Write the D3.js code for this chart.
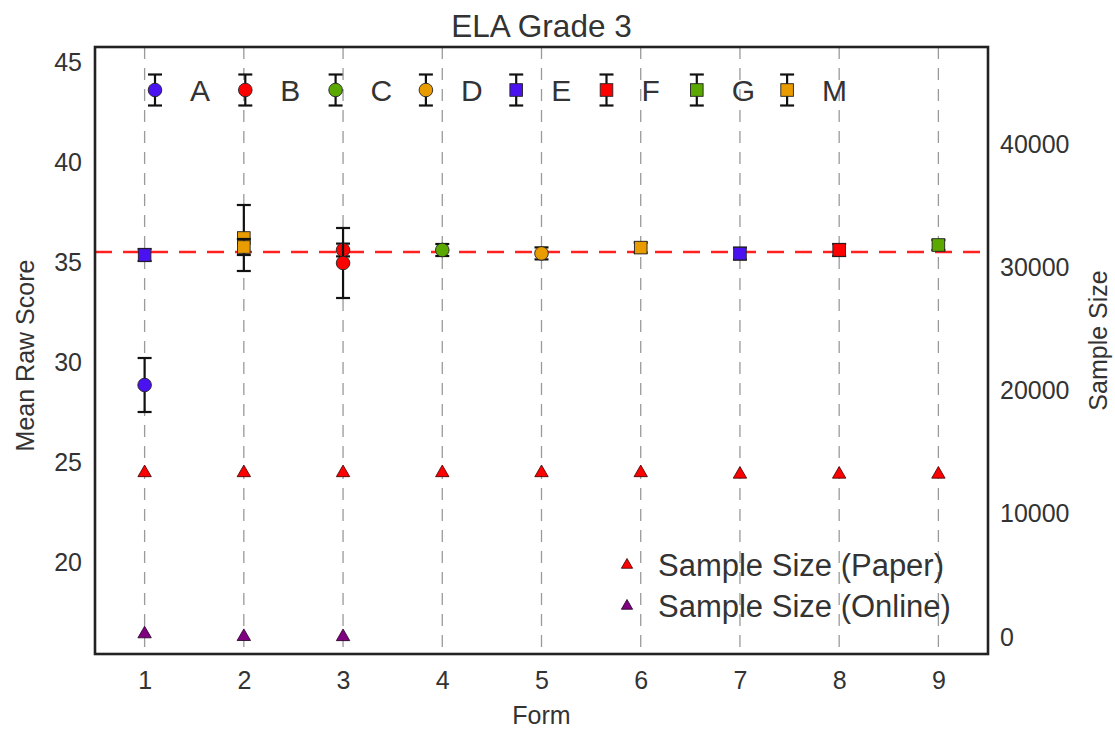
<!DOCTYPE html>
<html>
<head>
<meta charset="utf-8">
<script src="https://cdn.jsdelivr.net/npm/d3@7"></script>
<style>
  html, body { margin: 0; padding: 0; background: #fff; }
  svg { display: block; font-family: "Liberation Sans", Arial, sans-serif; }
</style>
</head>
<body>
<svg id="chart" width="1115" height="732"></svg>
<script>
// ---------- DATA ----------
const forms = [1, 2, 3, 4, 5, 6, 7, 8, 9];
const seriesNames  = ["A", "B", "C", "D", "E", "F", "G", "M"];
const seriesColors = ["#4a12f0", "#ff0000", "#5aa800", "#e89c00", "#4a12f0", "#ff0000", "#5aa800", "#e89c00"];
const seriesShapes = ["circle", "circle", "circle", "circle", "square", "square", "square", "square"];

// mean raw score points: series, form, mean, error
const pointSeries = ["A",   "E",   "M",   "M",   "B",   "B",   "C",   "D",   "M",   "E",   "F",   "G"];
const pointForm   = [1,     1,     2,     2,     3,     3,     4,     5,     6,     7,     8,     9];
const pointMean   = [28.85, 35.35, 36.2,  35.75, 35.6,  34.95, 35.6,  35.43, 35.72, 35.42, 35.6,  35.85];
const pointErr    = [1.35,  0.3,   1.65,  0.4,   0.32,  1.75,  0.3,   0.3,   0.25,  0.3,   0.3,   0.25];

const referenceMean = 35.5;

const paperN  = [13350, 13350, 13350, 13350, 13350, 13350, 13230, 13230, 13230];
const onlineForms = [1, 2, 3];
const onlineN = [250, 30, 20];

const leftTicks  = [20, 25, 30, 35, 40, 45];
const rightTicks = [0, 10000, 20000, 30000, 40000];

// ---------- LAYOUT ----------
const svg = d3.select("#chart");
const L = 95, T = 47, R = 988, B = 654;

const x  = d3.scaleLinear().domain([0.5, 9.5]).range([L, R]);
const y  = d3.scaleLinear().domain([15.4, 45.75]).range([B, T]);
const y2 = d3.scaleLinear().domain([-1382, 47967]).range([B, T]);

const textColor = "#333";

// vertical dashed grid lines
svg.append("g").selectAll("line").data(forms).join("line")
  .attr("x1", d => x(d)).attr("x2", d => x(d))
  .attr("y1", T).attr("y2", B)
  .attr("stroke", "#9a9a9a").attr("stroke-width", 1.3)
  .attr("stroke-dasharray", "12,9");

// reference red dashed line
svg.append("line")
  .attr("x1", L).attr("x2", R)
  .attr("y1", y(referenceMean)).attr("y2", y(referenceMean))
  .attr("stroke", "#ff2020").attr("stroke-width", 2.6)
  .attr("stroke-dasharray", "17,11");

// axes (labels only, no tick marks)
const leftAxis = d3.axisLeft(y).tickValues(leftTicks).tickSize(0).tickPadding(13);
const gl = svg.append("g").attr("transform", `translate(${L},0)`).call(leftAxis);
const rightAxis = d3.axisRight(y2).tickValues(rightTicks).tickSize(0).tickPadding(12).tickFormat(d3.format("d"));
const gr = svg.append("g").attr("transform", `translate(${R},0)`).call(rightAxis);
const bottomAxis = d3.axisBottom(x).tickValues(forms).tickSize(0).tickPadding(17);
const gb = svg.append("g").attr("transform", `translate(0,${B})`).call(bottomAxis);
[gl, gr, gb].forEach(g => {
  g.select(".domain").remove();
  g.selectAll("text").attr("font-size", 25).attr("fill", textColor)
    .attr("font-family", "Liberation Sans, Arial, sans-serif");
});

// triangles for sample sizes
const tri = d3.symbol().type(d3.symbolTriangle).size(78);
svg.append("g").selectAll("path").data(forms).join("path")
  .attr("d", tri)
  .attr("transform", (d, i) => `translate(${x(d)},${y2(paperN[i])})`)
  .attr("fill", "#ff0000").attr("stroke", "#3a0000").attr("stroke-width", 0.8);
svg.append("g").selectAll("path").data(onlineForms).join("path")
  .attr("d", tri)
  .attr("transform", (d, i) => `translate(${x(d)},${y2(onlineN[i])})`)
  .attr("fill", "#800080").attr("stroke", "#200020").attr("stroke-width", 0.8);

// error bars + markers
const capHalf = 7;
function drawMarker(g, shape, color, cx, cy) {
  if (shape === "circle") {
    g.append("circle").attr("cx", cx).attr("cy", cy).attr("r", 6.8)
      .attr("fill", color).attr("stroke", "#222").attr("stroke-width", 0.9);
  } else {
    g.append("rect").attr("x", cx - 6.3).attr("y", cy - 6.3)
      .attr("width", 12.6).attr("height", 12.6)
      .attr("fill", color).attr("stroke", "#222").attr("stroke-width", 0.9);
  }
}
function drawErr(g, cx, y1p, y2p) {
  g.append("line").attr("x1", cx).attr("x2", cx).attr("y1", y1p).attr("y2", y2p)
    .attr("stroke", "#111").attr("stroke-width", 2.2);
  [y1p, y2p].forEach(yy => g.append("line")
    .attr("x1", cx - capHalf).attr("x2", cx + capHalf).attr("y1", yy).attr("y2", yy)
    .attr("stroke", "#111").attr("stroke-width", 2.2));
}
const pts = svg.append("g");
pointSeries.forEach((s, i) => {
  const k = seriesNames.indexOf(s);
  const cx = x(pointForm[i]);
  const g = pts.append("g");
  drawErr(g, cx, y(pointMean[i] + pointErr[i]), y(pointMean[i] - pointErr[i]));
  drawMarker(g, seriesShapes[k], seriesColors[k], cx, y(pointMean[i]));
});

// top legend
const lg = svg.append("g");
seriesNames.forEach((s, k) => {
  const mx = 155 + k * 90.3, my = 90;
  const g = lg.append("g");
  drawErr(g, mx, my - 15.5, my + 15.5);
  drawMarker(g, seriesShapes[k], seriesColors[k], mx, my);
  g.append("text").attr("x", mx + 35).attr("y", my + 11)
    .attr("font-size", 30).attr("fill", textColor).text(s);
});

// bottom legend
const bl = svg.append("g");
[["Sample Size (Paper)", "#ff0000", "#3a0000", 565], ["Sample Size (Online)", "#800080", "#200020", 606]]
  .forEach(([label, fill, stroke, yy]) => {
    bl.append("path").attr("d", d3.symbol().type(d3.symbolTriangle).size(55))
      .attr("transform", `translate(627,${yy})`)
      .attr("fill", fill).attr("stroke", stroke).attr("stroke-width", 0.8);
    bl.append("text").attr("x", 658).attr("y", yy + 11)
      .attr("font-size", 31).attr("fill", textColor).text(label);
  });

// frame
svg.append("rect").attr("x", L).attr("y", T).attr("width", R - L).attr("height", B - T)
  .attr("fill", "none").attr("stroke", "#222").attr("stroke-width", 2.6);

// titles
svg.append("text").attr("x", (L + R) / 2).attr("y", 37).attr("text-anchor", "middle")
  .attr("font-size", 31.5).attr("fill", textColor).text("ELA Grade 3");
svg.append("text").attr("x", (L + R) / 2).attr("y", 724).attr("text-anchor", "middle")
  .attr("font-size", 25).attr("fill", textColor).text("Form");
svg.append("text").attr("transform", `translate(34,${(T + B) / 2 + 5}) rotate(-90)`)
  .attr("text-anchor", "middle").attr("font-size", 25).attr("fill", textColor).text("Mean Raw Score");
svg.append("text").attr("transform", `translate(1107,${(T + B) / 2 - 10}) rotate(-90)`)
  .attr("text-anchor", "middle").attr("font-size", 25).attr("fill", textColor).text("Sample Size");
</script>
</body>
</html>
